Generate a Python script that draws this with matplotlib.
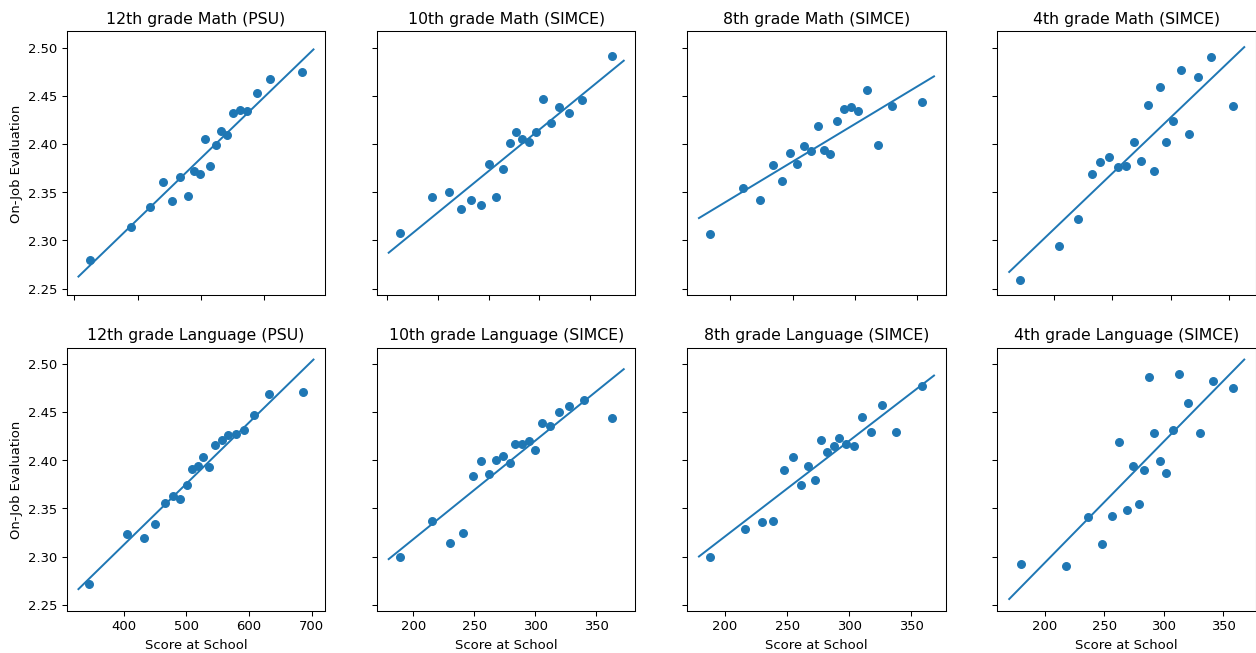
import matplotlib
matplotlib.use("Agg")
import matplotlib.pyplot as plt

# ---- titles ----
titles = [
    "12th grade Math (PSU)", "10th grade Math (SIMCE)", "8th grade Math (SIMCE)", "4th grade Math (SIMCE)",
    "12th grade Language (PSU)", "10th grade Language (SIMCE)", "8th grade Language (SIMCE)", "4th grade Language (SIMCE)",
]
y_label = "On-Job Evaluation"
x_label = "Score at School"

# ---- data ----
math12_x = [324.2, 390.4, 419.3, 439.8, 454.5, 467.6, 479.2, 489.2, 498.6, 507.0,
            515.4, 524.9, 532.8, 542.2, 551.2, 562.2, 573.8, 589.0, 609.5, 661.0]
math12_y = [2.2797, 2.3143, 2.3344, 2.3607, 2.3413, 2.3662, 2.3461, 2.3724, 2.3689, 2.4053,
            2.3772, 2.3997, 2.4142, 2.4098, 2.4329, 2.4353, 2.4350, 2.4533, 2.4682, 2.4754]
math12_fit_x = [306.3, 678.9]
math12_fit_y = [2.2625, 2.4986]

math10_x = [162.7, 194.9, 211.5, 223.2, 233.3, 242.4, 250.5, 257.6, 264.1, 271.3,
            277.2, 283.0, 290.2, 296.7, 303.8, 311.0, 319.1, 328.9, 341.9, 371.5]
math10_y = [2.3081, 2.3454, 2.3499, 2.3326, 2.3416, 2.3371, 2.3793, 2.3447, 2.3741, 2.4015,
            2.4129, 2.4053, 2.4025, 2.4129, 2.4474, 2.4225, 2.4388, 2.4326, 2.4464, 2.4920]
math10_fit_x = [152.0, 382.8]
math10_fit_y = [2.2873, 2.4869]

math8_x = [183.5, 210.1, 223.9, 233.8, 241.0, 247.9, 253.7, 259.0, 264.9, 269.9,
           275.0, 279.8, 285.4, 290.7, 296.5, 302.7, 309.6, 318.4, 329.3, 354.0]
math8_y = [2.3064, 2.3541, 2.3416, 2.3786, 2.3620, 2.3914, 2.3797, 2.3980, 2.3932, 2.4194,
           2.3938, 2.3897, 2.4246, 2.4364, 2.4388, 2.4343, 2.4561, 2.3990, 2.4395, 2.4443]
math8_fit_x = [174.7, 363.3]
math8_fit_y = [2.3233, 2.4706]

math4_x = [171.4, 204.0, 220.9, 232.6, 239.6, 247.0, 254.6, 261.7, 268.8, 274.7,
           280.4, 285.2, 290.3, 296.2, 301.9, 308.4, 315.2, 323.4, 333.9, 352.8]
math4_y = [2.2593, 2.2943, 2.3226, 2.3693, 2.3811, 2.3873, 2.3766, 2.3776, 2.4025, 2.3824,
           2.4405, 2.3724, 2.4595, 2.4021, 2.4243, 2.4775, 2.4104, 2.4703, 2.4910, 2.4398]
math4_fit_x = [161.8, 362.7]
math4_fit_y = [2.2673, 2.5010]

lang12_x = [344.9, 404.8, 432.3, 450.3, 465.7, 477.9, 489.6, 500.2, 509.2, 519.2,
            527.2, 536.7, 546.3, 556.3, 566.4, 578.6, 591.3, 608.8, 632.6, 685.6]
lang12_y = [2.2714, 2.3230, 2.3192, 2.3340, 2.3555, 2.3631, 2.3600, 2.3741, 2.3914, 2.3938,
            2.4032, 2.3928, 2.4156, 2.4215, 2.4263, 2.4277, 2.4319, 2.4474, 2.4689, 2.4713]
lang12_fit_x = [327.4, 703.1]
lang12_fit_y = [2.2662, 2.5048]

lang10_x = [188.9, 215.7, 229.8, 240.7, 248.8, 255.6, 261.8, 267.5, 273.5, 278.9,
            283.8, 289.2, 294.9, 300.1, 305.8, 312.3, 319.3, 328.0, 340.0, 363.0]
lang10_y = [2.3001, 2.3375, 2.3140, 2.3250, 2.3838, 2.3997, 2.3862, 2.4001, 2.4049, 2.3976,
            2.4167, 2.4174, 2.4205, 2.4111, 2.4388, 2.4353, 2.4506, 2.4568, 2.4623, 2.4443]
lang10_fit_x = [179.9, 372.5]
lang10_fit_y = [2.2974, 2.4948]

lang8_x = [187.7, 216.3, 229.7, 239.0, 247.6, 255.1, 261.5, 267.1, 272.2, 277.0,
           282.4, 287.4, 292.2, 297.6, 304.3, 310.2, 317.6, 326.7, 337.4, 359.1]
lang8_y = [2.3001, 2.3292, 2.3361, 2.3371, 2.3904, 2.4032, 2.3748, 2.3942, 2.3800, 2.4215,
           2.4091, 2.4146, 2.4229, 2.4174, 2.4146, 2.4454, 2.4291, 2.4575, 2.4298, 2.4772]
lang8_fit_x = [178.9, 368.4]
lang8_fit_y = [2.3001, 2.4882]

lang4_x = [179.4, 217.5, 236.2, 247.9, 256.2, 269.3, 274.3, 278.8, 283.5, 262.3,
           287.1, 291.3, 296.6, 301.6, 307.2, 313.0, 320.5, 330.0, 341.4, 358.1]
lang4_y = [2.2925, 2.2901, 2.3409, 2.3129, 2.3423, 2.3489, 2.3942, 2.3548, 2.3897, 2.4191,
           2.4869, 2.4281, 2.3997, 2.3869, 2.4315, 2.4900, 2.4599, 2.4281, 2.4824, 2.4748]
lang4_fit_x = [169.9, 367.5]
lang4_fit_y = [2.2559, 2.5048]

panels = [
    (math12_x, math12_y, math12_fit_x, math12_fit_y),
    (math10_x, math10_y, math10_fit_x, math10_fit_y),
    (math8_x, math8_y, math8_fit_x, math8_fit_y),
    (math4_x, math4_y, math4_fit_x, math4_fit_y),
    (lang12_x, lang12_y, lang12_fit_x, lang12_fit_y),
    (lang10_x, lang10_y, lang10_fit_x, lang10_fit_y),
    (lang8_x, lang8_y, lang8_fit_x, lang8_fit_y),
    (lang4_x, lang4_y, lang4_fit_x, lang4_fit_y),
]

DPI = 94.4
fig, axes = plt.subplots(2, 4, figsize=(1256 / DPI, 653.2 / DPI), dpi=DPI, sharey=True)
fig.subplots_adjust(left=0.0531, right=1.0, top=0.9515, bottom=0.0643,
                    wspace=0.2, hspace=0.2)

for i, ax in enumerate(axes.flat):
    xs, ys, fx, fy = panels[i]
    ax.scatter(xs, ys, color="C0", s=34)
    ax.plot(fx, fy, color="C0")
    ax.set_title(titles[i])
    row, col = divmod(i, 4)
    if row == 0:
        ax.tick_params(labelbottom=False)
    else:
        ax.set_xlabel(x_label)
    if col == 0:
        ax.set_ylabel(y_label)

fig.savefig("out.png", dpi=DPI)
